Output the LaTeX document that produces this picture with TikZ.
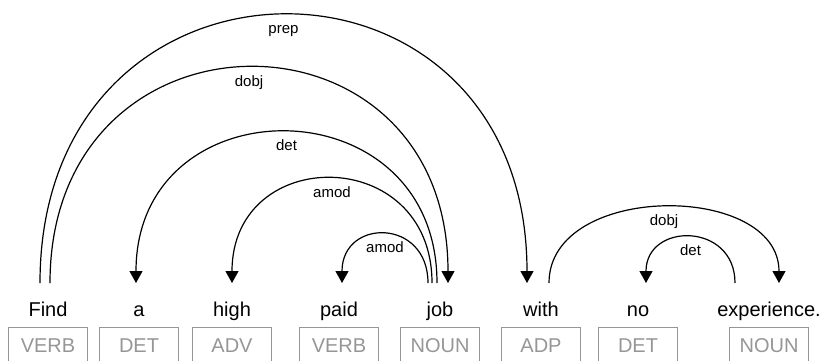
\documentclass[tikz,border=0pt]{standalone}
\usepackage{fontspec}
\setmainfont{Liberation Sans}
\usepackage{tikz}
\usetikzlibrary{
  arrows.meta,
  positioning
}
\definecolor{taggray}{RGB}{150,150,150}
\tikzset{
  word/.style={font=\fontsize{20}{24}\selectfont,inner sep=0pt,
    text height=15pt,text depth=4pt,anchor=base},
  tagbox/.style={draw=taggray,text=taggray,line width=1pt,
    minimum width=79pt,minimum height=36pt,inner sep=0pt,
    font=\fontsize{20}{24}\selectfont},
  dep/.style={-{Triangle[length=12pt,width=13pt]},line width=1.2pt},
  deplab/.style={font=\fontsize{15}{18}\selectfont,inner sep=0pt,
    text height=11pt,text depth=3pt}
}

\begin{document}
\begin{tikzpicture}[x=1pt,y=1pt]
  \useasboundingbox (0,0) rectangle (830,360);

  % words and their tags
  \node[word] (find) at (48,44) {Find};
  \node[word] (a) at (139,44) {a};
  \node[word] (high) at (232,44) {high};
  \node[word] (paid) at (339,44) {paid};
  \node[word] (job) at (440,44) {job};
  \node[word] (with) at (541,44) {with};
  \node[word] (no) at (638,44) {no};
  \node[word] (exp) at (769,44) {experience.};

  \node[tagbox,below=7pt of find] (findtag) {VERB};
  \node[tagbox,below=7pt of a] (atag) {DET};
  \node[tagbox,below=7pt of high] (hightag) {ADV};
  \node[tagbox,below=7pt of paid] (paidtag) {VERB};
  \node[tagbox,below=7pt of job] (jobtag) {NOUN};
  \node[tagbox,below=7pt of with] (withtag) {ADP};
  \node[tagbox,below=7pt of no] (notag) {DET};
  \node[tagbox,below=7pt of exp] (exptag) {NOUN};

  % arc ends
  \coordinate (findP) at (40,77);
  \coordinate (findD) at (50,77);
  \coordinate (aIn) at (136,77);
  \coordinate (highIn) at (232,77);
  \coordinate (paidIn) at (342,77);
  \coordinate (jobAp) at (428,77);
  \coordinate (jobAh) at (432,77);
  \coordinate (jobDet) at (437,77);
  \coordinate (jobIn) at (448,77);
  \coordinate (withIn) at (527,77);
  \coordinate (withOut) at (549,77);
  \coordinate (noIn) at (646,77);
  \coordinate (expOut) at (735,77);
  \coordinate (expIn) at (779,77);

  \draw[dep] (findP) .. controls +(0,357) and +(0,357) .. (withIn)
    node[deplab,pos=0.5,below=7pt] {prep};
  \draw[dep] (findD) .. controls +(0,287) and +(0,287) .. (jobIn)
    node[deplab,pos=0.5,below=7pt] {dobj};
  \draw[dep] (jobDet) .. controls +(0,201) and +(0,201) .. (aIn)
    node[deplab,pos=0.5,below=7pt] {det};
  \draw[dep] (jobAh) .. controls +(0,139) and +(0,139) .. (highIn)
    node[deplab,pos=0.5,below=7pt] {amod};
  \draw[dep] (jobAp) .. controls +(0,65) and +(0,65) .. (paidIn)
    node[deplab,pos=0.5,below=7pt] {amod};
  \draw[dep] (withOut) .. controls +(0,101) and +(0,101) .. (expIn)
    node[deplab,pos=0.5,below=7pt] {dobj};
  \draw[dep] (expOut) .. controls +(0,61) and +(0,61) .. (noIn)
    node[deplab,pos=0.5,below=7pt] {det};
\end{tikzpicture}
\end{document}
